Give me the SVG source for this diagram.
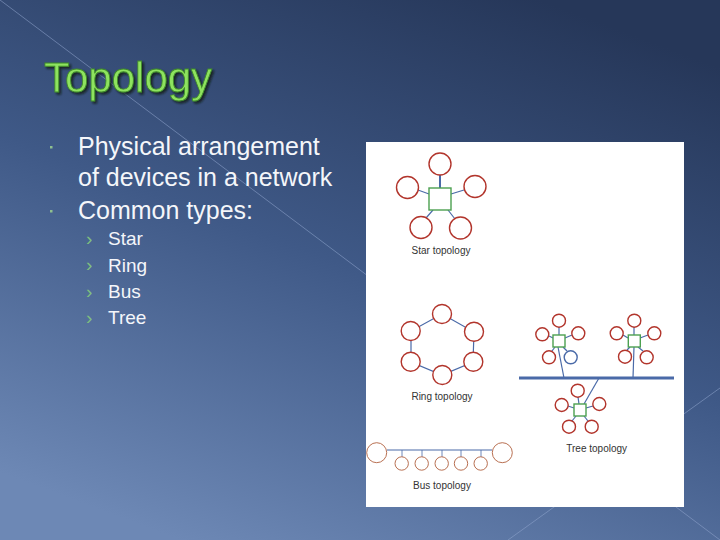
<svg xmlns="http://www.w3.org/2000/svg" width="720" height="540" viewBox="0 0 720 540">
<defs>
<linearGradient id="bg" x1="0.75" y1="0" x2="0.25" y2="1">
<stop offset="0" stop-color="#263759"/>
<stop offset="0.5" stop-color="#3f5987"/>
<stop offset="1" stop-color="#6d88b5"/>
</linearGradient>
<filter id="shadow" x="-10%" y="-20%" width="130%" height="150%">
<feDropShadow dx="2" dy="2" stdDeviation="0.8" flood-color="#101a10" flood-opacity="0.8"/>
</filter>
<style>
.t{font-family:"Liberation Sans",Arial,sans-serif}
.body{fill:#f4f6fa;font-size:25px}
.sub{fill:#f4f6fa;font-size:19px}
.chev{fill:#7fc07f;font-size:19px}
.deco{stroke:#8fa6cc;stroke-width:0.8;opacity:0.7;fill:none}
.dev{fill:#fff;stroke:#b2352c;stroke-width:1.4}
.devb{fill:#fff;stroke:#4a6aa8;stroke-width:1.4}
.busdev{fill:#fff;stroke:#b0603e;stroke-width:0.9}
.hub{fill:#fff;stroke:#4ca050;stroke-width:1.4}
.link{stroke:#4a6aa8;stroke-width:1.2;fill:none}
.thin{stroke-width:0.8}
.thick{stroke-width:2}
.backbone{stroke-width:3}
.cap{fill:#333;font-size:10px;text-anchor:middle}
</style>
</defs>
<rect width="720" height="540" fill="url(#bg)"/>
<g id="decor">
<line class="deco" x1="0" y1="0" x2="720" y2="540"/>
<line class="deco" x1="720" y1="388" x2="508" y2="540"/>
</g>
<g id="title">
<text class="t" x="44" y="92" font-size="42" fill="#8ee35e" stroke="#3f8a2a" stroke-width="0.8" filter="url(#shadow)">Topology</text>
</g>
<g id="bullets">
<rect x="50" y="146" width="2.5" height="2.5" fill="#8fbf8f"/>
<rect x="50" y="210" width="2.5" height="2.5" fill="#8fbf8f"/>
<text class="t body" x="78" y="155">Physical arrangement</text>
<text class="t body" x="78" y="186">of devices in a network</text>
<text class="t body" x="78" y="219">Common types:</text>
<text class="t chev" x="86" y="245">›</text>
<text class="t chev" x="86" y="271">›</text>
<text class="t chev" x="86" y="298">›</text>
<text class="t chev" x="86" y="324">›</text>
<text class="t sub" x="108" y="245">Star</text>
<text class="t sub" x="108" y="272">Ring</text>
<text class="t sub" x="108" y="298">Bus</text>
<text class="t sub" x="108" y="324">Tree</text>
</g>
<rect id="panel" x="366" y="142" width="318" height="365" fill="#fff"/>
<g id="connectors">
<line class="link thick" x1="440" y1="175" x2="440" y2="188"/>
<line class="link" x1="418" y1="190" x2="429" y2="194"/>
<line class="link" x1="451" y1="194" x2="464" y2="190"/>
<line class="link" x1="433" y1="210" x2="426" y2="218"/>
<line class="link" x1="448" y1="210" x2="455" y2="219"/>
<polyline class="link" points="442,314 411,331 411,362 442,375 473,362 474,332 442,314"/>
<line class="link" x1="387" y1="450" x2="492" y2="450"/>
<line class="link thin" x1="402" y1="450" x2="402" y2="457"/>
<line class="link thin" x1="422" y1="450" x2="422" y2="457"/>
<line class="link thin" x1="442" y1="450" x2="442" y2="457"/>
<line class="link thin" x1="461" y1="450" x2="461" y2="457"/>
<line class="link thin" x1="481" y1="450" x2="481" y2="457"/>
<line class="link backbone" x1="519" y1="378" x2="674" y2="378"/>
<line class="link" x1="558" y1="347" x2="564" y2="378"/>
<line class="link" x1="634" y1="347" x2="633" y2="378"/>
<line class="link" x1="599" y1="378" x2="584" y2="404"/>
<line class="link" x1="559" y1="327" x2="559" y2="335"/>
<line class="link" x1="549" y1="336" x2="553" y2="338"/>
<line class="link" x1="565" y1="338" x2="572" y2="335"/>
<line class="link" x1="555" y1="347" x2="552" y2="351"/>
<line class="link" x1="563" y1="347" x2="567" y2="351"/>
<line class="link" x1="634" y1="327" x2="634" y2="335"/>
<line class="link" x1="623" y1="335" x2="628" y2="338"/>
<line class="link" x1="640" y1="338" x2="648" y2="335"/>
<line class="link" x1="630" y1="347" x2="627" y2="350"/>
<line class="link" x1="638" y1="347" x2="643" y2="351"/>
<line class="link" x1="578" y1="397" x2="579" y2="404"/>
<line class="link" x1="568" y1="406" x2="574" y2="408"/>
<line class="link" x1="586" y1="408" x2="593" y2="406"/>
<line class="link" x1="576" y1="416" x2="572" y2="421"/>
<line class="link" x1="584" y1="416" x2="588" y2="421"/>
</g>
<g id="star">
<rect class="hub" x="429" y="188" width="22" height="22"/>
<circle class="dev" cx="440" cy="164" r="11"/>
<circle class="dev" cx="407.5" cy="187.5" r="11"/>
<circle class="dev" cx="475" cy="186.5" r="11"/>
<circle class="dev" cx="421" cy="227.5" r="11"/>
<circle class="dev" cx="460.5" cy="228" r="11"/>
<text class="t cap" x="441" y="254">Star topology</text>
</g>
<g id="ring">
<circle class="dev" cx="442" cy="314" r="9.5"/>
<circle class="dev" cx="410.7" cy="331" r="9.5"/>
<circle class="dev" cx="474" cy="331.7" r="9.5"/>
<circle class="dev" cx="410.7" cy="361.7" r="9.5"/>
<circle class="dev" cx="473.3" cy="361.7" r="9.5"/>
<circle class="dev" cx="442.3" cy="375" r="9.5"/>
<text class="t cap" x="442" y="400">Ring topology</text>
</g>
<g id="bus">
<circle class="busdev" cx="376.7" cy="452.7" r="10"/>
<circle class="busdev" cx="502.3" cy="452.7" r="10"/>
<circle class="busdev" cx="401.7" cy="463.5" r="6.7"/>
<circle class="busdev" cx="421.7" cy="463.5" r="6.7"/>
<circle class="busdev" cx="441.7" cy="463.5" r="6.7"/>
<circle class="busdev" cx="461" cy="463.5" r="6.7"/>
<circle class="busdev" cx="480.7" cy="463.5" r="6.7"/>
<text class="t cap" x="442" y="489">Bus topology</text>
</g>
<g id="tree">
<g id="tree-left">
<rect class="hub" x="553" y="335" width="12" height="12"/>
<circle class="dev" cx="559" cy="320.7" r="6.5"/>
<circle class="dev" cx="542.3" cy="334.3" r="6.5"/>
<circle class="dev" cx="578.3" cy="333.3" r="6.5"/>
<circle class="dev" cx="549" cy="357.3" r="6.5"/>
<circle class="devb" cx="570.7" cy="357.3" r="6.5"/>
</g>
<g id="tree-right">
<rect class="hub" x="628.3" y="335" width="12" height="12"/>
<circle class="dev" cx="634.3" cy="320.7" r="6.5"/>
<circle class="dev" cx="616.7" cy="333.3" r="6.5"/>
<circle class="dev" cx="654.3" cy="333.3" r="6.5"/>
<circle class="dev" cx="625" cy="356.7" r="6.5"/>
<circle class="dev" cx="646.7" cy="357.3" r="6.5"/>
</g>
<g id="tree-bottom">
<rect class="hub" x="574" y="404" width="12" height="12"/>
<circle class="dev" cx="577.7" cy="390.7" r="6.5"/>
<circle class="dev" cx="561.7" cy="405" r="6.5"/>
<circle class="dev" cx="599.3" cy="404" r="6.5"/>
<circle class="dev" cx="569" cy="426.7" r="6.5"/>
<circle class="dev" cx="591.7" cy="426.7" r="6.5"/>
</g>
<text class="t cap" x="596.7" y="452">Tree topology</text>
</g>
</svg>
